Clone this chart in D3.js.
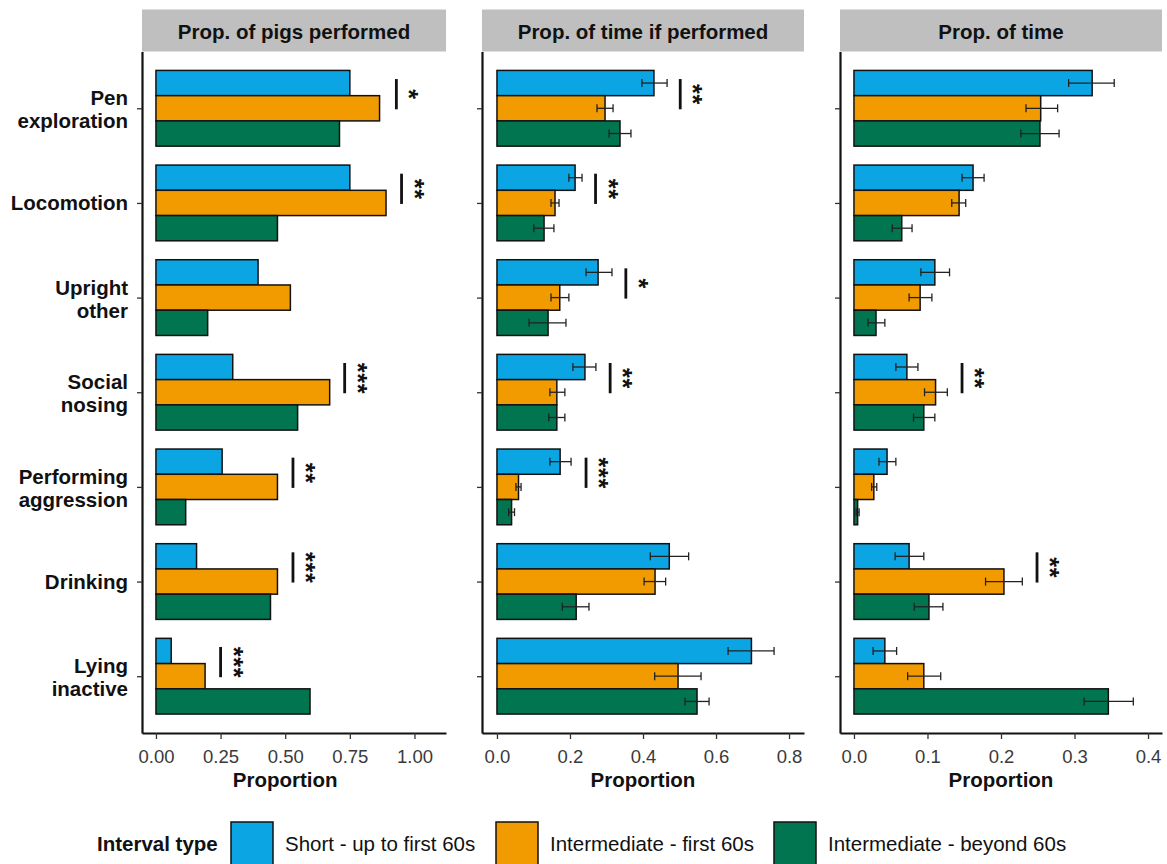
<!DOCTYPE html>
<html>
<head>
<meta charset="utf-8">
<script src="https://cdn.jsdelivr.net/npm/d3@7/dist/d3.min.js"></script>
<style>
  html, body { margin: 0; padding: 0; background: #fff; }
  svg { display: block; font-family: "Liberation Sans", Arial, sans-serif; }
</style>
</head>
<body>
<svg id="chart" width="1167" height="864"></svg>
<script>
// Behaviours (top to bottom) and their wrapped labels
const categories = ["Pen exploration", "Locomotion", "Upright other", "Social nosing",
                    "Performing aggression", "Drinking", "Lying inactive"];
const categoryLines = [["Pen", "exploration"], ["Locomotion"], ["Upright", "other"], ["Social", "nosing"],
                       ["Performing", "aggression"], ["Drinking"], ["Lying", "inactive"]];

// Interval types
const seriesNames = ["Short - up to first 60s", "Intermediate - first 60s", "Intermediate - beyond 60s"];
const seriesColors = ["#0BA5E4", "#F29B00", "#00754F"];

// Proportion of pigs that performed each behaviour
const pigsShort  = [0.75, 0.75, 0.395, 0.297, 0.256, 0.157, 0.059];
const pigsFirst  = [0.865, 0.89, 0.52, 0.672, 0.47, 0.47, 0.19];
const pigsBeyond = [0.71, 0.47, 0.20, 0.548, 0.115, 0.443, 0.596];

// Proportion of time, given the behaviour was performed (mean, lower, upper)
const timeIfShort    = [0.430, 0.214, 0.277, 0.241, 0.173, 0.472, 0.697];
const timeIfShortLo  = [0.397, 0.197, 0.244, 0.208, 0.145, 0.420, 0.633];
const timeIfShortHi  = [0.466, 0.233, 0.315, 0.271, 0.203, 0.525, 0.759];
const timeIfFirst    = [0.296, 0.159, 0.172, 0.164, 0.059, 0.433, 0.496];
const timeIfFirstLo  = [0.274, 0.148, 0.148, 0.145, 0.052, 0.403, 0.432];
const timeIfFirstHi  = [0.318, 0.170, 0.197, 0.186, 0.066, 0.462, 0.559];
const timeIfBeyond   = [0.337, 0.129, 0.140, 0.164, 0.040, 0.217, 0.548];
const timeIfBeyondLo = [0.307, 0.101, 0.088, 0.142, 0.032, 0.179, 0.515];
const timeIfBeyondHi = [0.367, 0.156, 0.189, 0.186, 0.048, 0.252, 0.581];

// Overall proportion of time (mean, lower, upper)
const timeShort    = [0.324, 0.162, 0.110, 0.072, 0.045, 0.075, 0.042];
const timeShortLo  = [0.292, 0.147, 0.091, 0.057, 0.034, 0.056, 0.026];
const timeShortHi  = [0.354, 0.177, 0.130, 0.087, 0.057, 0.095, 0.058];
const timeFirst    = [0.254, 0.143, 0.090, 0.111, 0.027, 0.204, 0.095];
const timeFirstLo  = [0.234, 0.133, 0.075, 0.096, 0.024, 0.179, 0.073];
const timeFirstHi  = [0.277, 0.152, 0.106, 0.127, 0.031, 0.229, 0.118];
const timeBeyond   = [0.253, 0.065, 0.030, 0.095, 0.005, 0.102, 0.346];
const timeBeyondLo = [0.227, 0.052, 0.019, 0.081, 0.003, 0.082, 0.313];
const timeBeyondHi = [0.279, 0.079, 0.042, 0.110, 0.007, 0.121, 0.380];

// Significance of short vs intermediate-first comparisons: [category, stars, bar position]
const pigsSig   = [["Pen exploration", "*", 0.93], ["Locomotion", "**", 0.95], ["Social nosing", "***", 0.73],
                   ["Performing aggression", "**", 0.53], ["Drinking", "***", 0.53], ["Lying inactive", "***", 0.25]];
const timeIfSig = [["Pen exploration", "**", 0.502], ["Locomotion", "**", 0.27], ["Upright other", "*", 0.353],
                   ["Social nosing", "**", 0.31], ["Performing aggression", "***", 0.244]];
const timeSig   = [["Social nosing", "**", 0.147], ["Drinking", "**", 0.249]];

// Axis ticks per facet
const pigsTicks   = [0, 0.25, 0.5, 0.75, 1];
const timeIfTicks = [0, 0.2, 0.4, 0.6, 0.8];
const timeTicks   = [0, 0.1, 0.2, 0.3, 0.4];

const facets = [
  { title: "Prop. of pigs performed", left: 142, right: 446, domain: [-0.054, 1.122],
    ticks: pigsTicks, fmt: d3.format(".2f"),
    mean: [pigsShort, pigsFirst, pigsBeyond], lo: null, hi: null, sig: pigsSig },
  { title: "Prop. of time if performed", left: 482, right: 804, domain: [-0.041, 0.841],
    ticks: timeIfTicks, fmt: d3.format(".1f"),
    mean: [timeIfShort, timeIfFirst, timeIfBeyond],
    lo: [timeIfShortLo, timeIfFirstLo, timeIfBeyondLo],
    hi: [timeIfShortHi, timeIfFirstHi, timeIfBeyondHi], sig: timeIfSig },
  { title: "Prop. of time", left: 840, right: 1162, domain: [-0.019, 0.419],
    ticks: timeTicks, fmt: d3.format(".1f"),
    mean: [timeShort, timeFirst, timeBeyond],
    lo: [timeShortLo, timeFirstLo, timeBeyondLo],
    hi: [timeShortHi, timeFirstHi, timeBeyondHi], sig: timeSig }
];

const svg = d3.select("#chart");
const panelTop = 51.5, panelBottom = 733;
const stripTop = 9.5;

const y = d3.scalePoint().domain(categories).range([panelTop, panelBottom]).padding(0.6);
const groupH = y.step() * 0.8;
const barH = groupH / seriesNames.length;
const barY = (cat, s) => y(cat) - groupH / 2 + s * barH;

facets.forEach((f, fi) => {
  const x = d3.scaleLinear().domain(f.domain).range([f.left, f.right]);
  const g = svg.append("g");

  // facet strip
  g.append("rect").attr("x", f.left).attr("y", stripTop)
    .attr("width", f.right - f.left).attr("height", panelTop - stripTop)
    .attr("fill", "#BFBFBF");
  g.append("text").attr("x", (f.left + f.right) / 2).attr("y", 38.5)
    .attr("text-anchor", "middle").attr("font-size", 20.5).attr("font-weight", "bold")
    .attr("fill", "#111").text(f.title);

  // bars
  f.mean.forEach((vals, s) => {
    g.selectAll(null).data(categories).join("rect")
      .attr("x", x(0)).attr("y", c => barY(c, s))
      .attr("width", (c, i) => x(vals[i]) - x(0)).attr("height", barH)
      .attr("fill", seriesColors[s]).attr("stroke", "#111").attr("stroke-width", 1.5);
  });

  // error bars
  if (f.lo) {
    f.mean.forEach((vals, s) => {
      const eg = g.selectAll(null).data(categories).join("g")
        .attr("stroke", "#222").attr("stroke-width", 1.3).attr("fill", "none");
      eg.append("line")
        .attr("x1", (c, i) => x(f.lo[s][i])).attr("x2", (c, i) => x(f.hi[s][i]))
        .attr("y1", c => barY(c, s) + barH / 2).attr("y2", c => barY(c, s) + barH / 2);
      eg.append("line")
        .attr("x1", (c, i) => x(f.lo[s][i])).attr("x2", (c, i) => x(f.lo[s][i]))
        .attr("y1", c => barY(c, s) + barH / 2 - 4).attr("y2", c => barY(c, s) + barH / 2 + 4);
      eg.append("line")
        .attr("x1", (c, i) => x(f.hi[s][i])).attr("x2", (c, i) => x(f.hi[s][i]))
        .attr("y1", c => barY(c, s) + barH / 2 - 4).attr("y2", c => barY(c, s) + barH / 2 + 4);
    });
  }

  // significance markers: stars drawn one per step so they stack evenly
  f.sig.forEach(([cat, stars, pos]) => {
    const y1 = barY(cat, 0) + barH / 2 - 4;
    const y2 = barY(cat, 1) + barH / 2 + 1;
    g.append("line").attr("x1", x(pos)).attr("x2", x(pos)).attr("y1", y1).attr("y2", y2)
      .attr("stroke", "#111").attr("stroke-width", 2.8);
    const n = stars.length, gap = 10.5, mid = (y1 + y2) / 2;
    d3.range(n).forEach(k => {
      g.append("text")
        .attr("transform", `translate(${x(pos) + 4},${mid + (k - (n - 1) / 2) * gap}) rotate(90)`)
        .attr("text-anchor", "middle").attr("font-size", 25).attr("font-weight", "bold")
        .attr("fill", "#111").text("*");
    });
  });

  // x axis
  const xa = g.append("g").attr("transform", `translate(0,${panelBottom})`)
    .call(d3.axisBottom(x).tickValues(f.ticks).tickFormat(f.fmt).tickSize(6).tickSizeOuter(0).tickPadding(6));
  xa.select(".domain").attr("stroke", "#111").attr("stroke-width", 2.2);
  xa.selectAll(".tick line").attr("stroke", "#333").attr("stroke-width", 1.3);
  xa.selectAll(".tick text").attr("font-size", 18.5).attr("fill", "#3a3a3a")
    .attr("font-family", "Liberation Sans, Arial, sans-serif").attr("dy", "0.95em");

  g.append("text").attr("x", x(f.ticks[0]) + (x(f.ticks[f.ticks.length - 1]) - x(f.ticks[0])) / 2)
    .attr("y", 787).attr("text-anchor", "middle").attr("font-size", 20.5).attr("font-weight", "bold")
    .attr("fill", "#111").text("Proportion");

  // y axis
  const ya = g.append("g").attr("transform", `translate(${f.left},0)`)
    .call(d3.axisLeft(y).tickSize(5).tickSizeOuter(0).tickFormat(""));
  ya.select(".domain").attr("stroke", "#111").attr("stroke-width", 2.2);
  ya.selectAll(".tick line").attr("stroke", "#333").attr("stroke-width", 1.3);

  if (fi === 0) {
    categories.forEach((c, i) => {
      const lines = categoryLines[i];
      const t = g.append("text").attr("text-anchor", "end").attr("font-size", 20.5)
        .attr("font-weight", "bold").attr("fill", "#111");
      lines.forEach((ln, k) => {
        const base = lines.length === 1 ? y(c) + 7.5 : y(c) - 3 + k * 23;
        t.append("tspan").attr("x", 128).attr("y", base).text(ln);
      });
    });
  }
});

// legend
const legend = svg.append("g");
legend.append("text").attr("x", 97).attr("y", 851).attr("font-size", 20.5).attr("font-weight", "bold")
  .attr("fill", "#111").text("Interval type");
const keyX = [231, 496, 774];
seriesNames.forEach((name, s) => {
  legend.append("rect").attr("x", keyX[s]).attr("y", 822).attr("width", 42).attr("height", 46)
    .attr("fill", seriesColors[s]).attr("stroke", "#111").attr("stroke-width", 1.5);
  legend.append("text").attr("x", keyX[s] + 54).attr("y", 851).attr("font-size", 20.5)
    .attr("fill", "#111").text(name);
});
</script>
</body>
</html>
